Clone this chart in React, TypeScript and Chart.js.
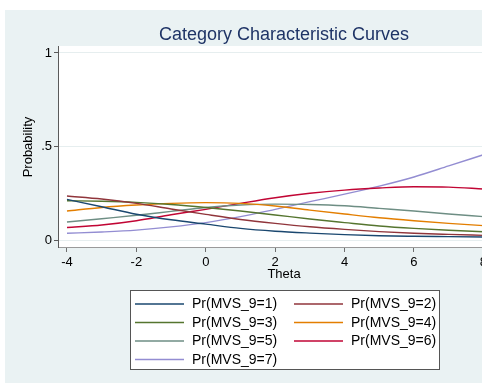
import React, { useEffect, useRef } from "react";
import { Chart, registerables } from "chart.js";

Chart.register(...registerables);

// Latent trait grid
const theta = [-4, -3, -2, -1, 0, 1, 2, 3, 4, 5, 6, 7, 8];

// Category probabilities for MVS_9
const pr1 = [0.217, 0.178, 0.138, 0.108, 0.085, 0.062, 0.047, 0.037, 0.029, 0.023, 0.02, 0.018, 0.016];
const pr2 = [0.235, 0.219, 0.196, 0.166, 0.137, 0.11, 0.089, 0.071, 0.057, 0.045, 0.036, 0.03, 0.025];
const pr3 = [0.21, 0.207, 0.201, 0.19, 0.174, 0.155, 0.134, 0.112, 0.093, 0.075, 0.062, 0.052, 0.044];
const pr4 = [0.155, 0.174, 0.187, 0.196, 0.2, 0.196, 0.182, 0.16, 0.139, 0.119, 0.103, 0.089, 0.077];
const pr5 = [0.096, 0.114, 0.132, 0.153, 0.174, 0.187, 0.192, 0.19, 0.183, 0.169, 0.155, 0.139, 0.125];
const pr6 = [0.067, 0.08, 0.103, 0.135, 0.164, 0.196, 0.226, 0.25, 0.267, 0.278, 0.285, 0.283, 0.273];
const pr7 = [0.036, 0.043, 0.053, 0.07, 0.093, 0.125, 0.164, 0.205, 0.245, 0.288, 0.337, 0.396, 0.456];

const seriesLabels = [
  "Pr(MVS_9=1)",
  "Pr(MVS_9=2)",
  "Pr(MVS_9=3)",
  "Pr(MVS_9=4)",
  "Pr(MVS_9=5)",
  "Pr(MVS_9=6)",
  "Pr(MVS_9=7)",
];
const seriesValues = [pr1, pr2, pr3, pr4, pr5, pr6, pr7];
const seriesColors = ["#1a476f", "#90353b", "#55752f", "#e37e00", "#6e8e84", "#c10534", "#938dd2"];

const xTicks = [-4, -2, 0, 2, 4, 6, 8];
const yTicks = [0, 0.5, 1];
const yTickLabels = ["0", ".5", "1"];

const chartTitle = "Category Characteristic Curves";
const xTitle = "Theta";
const yTitle = "Probability";

const FONT = "'Liberation Sans', Arial, sans-serif";
const BG = "#eaf2f3";

const frame = {
  id: "frame",
  beforeDraw(chart: any) {
    const { ctx, chartArea: a, width, height } = chart;
    ctx.save();
    ctx.fillStyle = "#ffffff";
    ctx.fillRect(0, 0, width, height);
    ctx.fillStyle = BG;
    ctx.fillRect(5, 10, width - 5, height - 10);
    ctx.fillStyle = "#ffffff";
    ctx.fillRect(a.left, a.top, a.right - a.left, a.bottom - a.top);
    ctx.restore();
  },
  afterDraw(chart: any) {
    const { ctx, chartArea: a } = chart;
    const cx = (a.left + a.right) / 2;
    ctx.save();
    // title
    ctx.fillStyle = "#1f3466";
    ctx.font = `18px ${FONT}`;
    ctx.textAlign = "center";
    ctx.textBaseline = "middle";
    ctx.fillText(chartTitle, cx, 35);
    // axis titles
    ctx.fillStyle = "#000000";
    ctx.font = `13px ${FONT}`;
    ctx.fillText(xTitle, cx, 274);
    ctx.save();
    ctx.translate(28, 147);
    ctx.rotate(-Math.PI / 2);
    ctx.fillText(yTitle, 0, 0);
    ctx.restore();
    // legend
    const bx = 130.5, by = 290.5, bw = 309, bh = 79;
    ctx.fillStyle = "#ffffff";
    ctx.fillRect(bx, by, bw, bh);
    ctx.strokeStyle = "#555555";
    ctx.lineWidth = 1;
    ctx.strokeRect(bx, by, bw, bh);
    ctx.font = `14px ${FONT}`;
    ctx.textAlign = "left";
    ctx.textBaseline = "middle";
    const rowY = [304, 322.5, 341, 359.5];
    const colLine = [[135, 184], [294, 343]];
    const colText = [192, 351];
    seriesLabels.forEach((lab, i) => {
      const r = Math.floor(i / 2);
      const c = i % 2;
      ctx.strokeStyle = seriesColors[i];
      ctx.lineWidth = 1.4;
      ctx.beginPath();
      ctx.moveTo(colLine[c][0], rowY[r]);
      ctx.lineTo(colLine[c][1], rowY[r]);
      ctx.stroke();
      ctx.fillStyle = "#000000";
      ctx.fillText(lab, colText[c], rowY[r] + 0.5);
    });
    ctx.restore();
  },
};

export default function App() {
  const ref = useRef<HTMLCanvasElement | null>(null);

  useEffect(() => {
    if (!ref.current) return;
    const chart = new Chart(ref.current, {
      type: "line",
      data: {
        datasets: seriesValues.map((vals, i) => ({
          label: seriesLabels[i],
          data: theta.map((t, j) => ({ x: t, y: vals[j] })),
          borderColor: seriesColors[i],
          borderWidth: 1.4,
          pointRadius: 0,
          fill: false,
          cubicInterpolationMode: "monotone" as const,
        })),
      },
      options: {
        responsive: false,
        animation: false,
        devicePixelRatio: 1,
        layout: { padding: { left: 0, top: 46, right: 10, bottom: 0 } },
        plugins: {
          legend: { display: false },
          title: { display: false },
          tooltip: { enabled: false },
        },
        scales: {
          x: {
            type: "linear",
            min: -4.259,
            max: 8.767,
            afterBuildTicks: (s: any) => {
              s.ticks = xTicks.map((v) => ({ value: v }));
            },
            afterFit: (s: any) => {
              s.height = 136;
            },
            ticks: {
              color: "#000000",
              font: { family: FONT, size: 13 },
              padding: 3,
              maxRotation: 0,
              autoSkip: false,
              callback: (v: any) => String(v),
            },
            grid: {
              drawOnChartArea: false,
              drawTicks: true,
              tickLength: 5,
              tickColor: "#6f6f6f",
            },
            border: { color: "#9a9a9a", width: 1 },
          },
          y: {
            type: "linear",
            min: -0.0374,
            max: 1.0374,
            afterBuildTicks: (s: any) => {
              s.ticks = yTicks.map((v) => ({ value: v }));
            },
            afterFit: (s: any) => {
              s.width = 58;
            },
            ticks: {
              color: "#000000",
              font: { family: FONT, size: 13 },
              padding: 2,
              autoSkip: false,
              callback: (v: any) => yTickLabels[yTicks.indexOf(Number(v))] ?? "",
            },
            grid: {
              drawOnChartArea: true,
              color: "#e6eeef",
              drawTicks: true,
              tickLength: 4,
              tickColor: "#5a5a5a",
            },
            border: { color: "#5a5a5a", width: 1 },
          },
        },
      },
      plugins: [frame],
    });
    return () => chart.destroy();
  }, []);

  return (
    <div
      style={{
        position: "fixed",
        left: 0,
        top: 0,
        width: 482,
        height: 383,
        overflow: "hidden",
      }}
    >
      <canvas ref={ref} width={520} height={383} style={{ display: "block" }} />
    </div>
  );
}
